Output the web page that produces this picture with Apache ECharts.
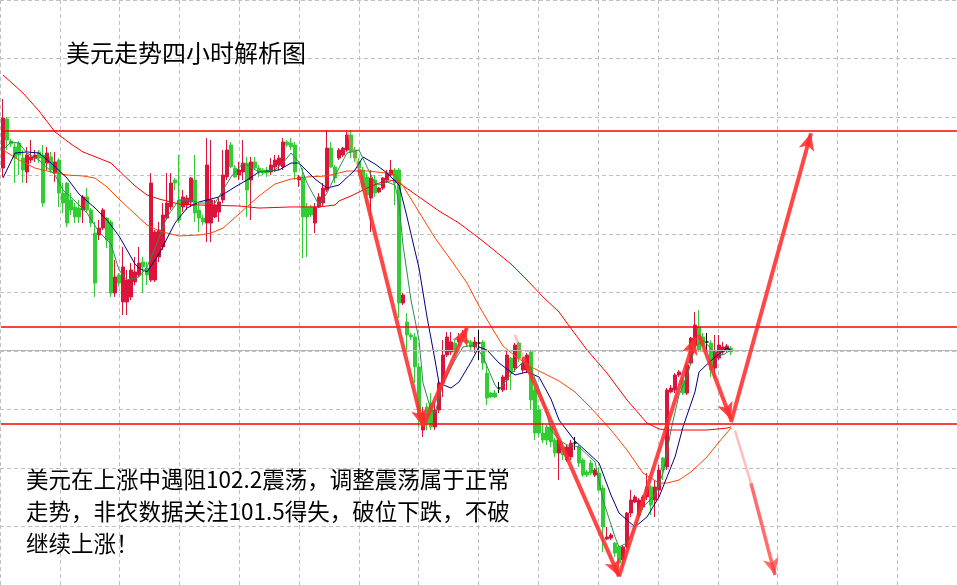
<!DOCTYPE html>
<html><head><meta charset="utf-8">
<script src="https://cdn.jsdelivr.net/npm/echarts@6/dist/echarts.min.js"></script>
<style>html,body{margin:0;padding:0;background:#fff}#c{width:957px;height:585px}</style>
</head><body><div id="c"></div>
<script>
// ---- data (USD index, 4H bars): [open, close, low, high]
const candles = [
[103.340,103.700,103.276,103.837],[103.693,103.542,103.470,103.708],[103.535,103.513,103.492,103.549],[103.492,103.412,103.232,103.520],
[103.520,103.434,103.290,103.535],[103.412,103.326,103.232,103.470],[103.312,103.434,103.232,103.492],[103.398,103.420,103.376,103.542],
[103.412,103.434,103.384,103.470],[103.456,103.412,103.376,103.470],[103.434,103.088,103.060,103.506],[103.376,103.448,103.326,103.492],
[103.420,103.326,103.304,103.456],[103.304,103.384,103.240,103.456],[103.398,103.160,103.060,103.412],[103.160,103.088,103.016,103.232],
[103.232,102.944,102.916,103.240],[103.110,103.038,103.002,103.160],[103.060,102.988,102.944,103.088],[103.052,102.988,102.944,103.110],
[103.038,103.132,102.944,103.146],[103.132,103.038,103.024,103.196],[103.038,102.944,102.916,103.052],[102.872,102.512,102.412,102.952],
[102.858,102.908,102.822,102.966],[102.908,103.038,102.894,103.052],[102.980,102.822,102.764,102.988],[102.952,102.440,102.412,102.966],
[102.440,102.556,102.412,102.678],[102.570,102.512,102.484,102.584],[102.376,102.628,102.282,102.772],[102.376,102.534,102.282,102.606],
[102.412,102.606,102.390,102.656],[102.520,102.592,102.498,102.700],[102.570,102.656,102.556,102.772],[102.664,102.628,102.440,102.700],
[102.620,102.570,102.498,102.664],[102.534,103.232,102.520,103.304],[102.534,102.880,102.520,102.894],[102.700,102.894,102.664,102.952],
[102.772,103.002,102.750,103.088],[102.980,103.088,102.966,103.304],[103.060,103.232,103.038,103.304],[103.254,103.232,103.182,103.268],
[103.110,102.966,102.944,103.434],[103.060,103.132,103.024,103.182],[103.074,103.124,103.038,103.146],[103.096,103.268,103.060,103.276],
[103.254,103.016,102.952,103.434],[103.038,102.980,102.880,103.088],[102.980,102.952,102.930,103.002],[102.944,103.362,102.808,103.556],
[102.944,103.110,102.808,103.542],[102.988,103.074,102.980,103.110],[103.024,103.096,102.952,103.132],[103.110,103.290,103.088,103.470],
[103.276,103.470,103.254,103.542],[103.506,103.348,103.340,103.528],[103.340,103.276,103.268,103.362],[103.290,103.326,103.254,103.384],
[103.312,103.376,103.254,103.542],[103.376,103.182,102.988,103.420],[103.254,103.384,102.966,103.420],[103.384,103.340,103.326,103.420],
[103.340,103.312,103.276,103.362],[103.326,103.304,103.290,103.340],[103.326,103.304,103.276,103.348],[103.312,103.362,103.290,103.412],
[103.348,103.398,103.312,103.434],[103.362,103.412,103.326,103.434],[103.348,103.528,103.326,103.556],[103.528,103.506,103.492,103.542],
[103.520,103.492,103.470,103.556],[103.506,103.312,103.254,103.528],[103.254,103.276,103.204,103.290],[103.276,102.988,102.692,103.340],
[103.060,102.988,102.700,103.088],[103.060,103.002,102.988,103.074],[102.944,103.060,102.872,103.088],[103.060,103.132,103.052,103.160],
[103.088,103.196,103.060,103.232],[103.182,103.484,103.168,103.614],[103.484,103.348,103.340,103.528],[103.348,103.268,103.232,103.362],
[103.412,103.470,103.398,103.484],[103.434,103.484,103.420,103.492],[103.470,103.578,103.456,103.614],[103.578,103.456,103.412,103.614],
[103.470,103.412,103.384,103.492],[103.384,103.340,103.304,103.412],[103.326,103.204,103.182,103.348],[103.276,103.146,103.074,103.304],
[103.124,103.268,102.880,103.326],[103.254,103.160,103.132,103.290],[103.168,103.196,103.160,103.204],[103.196,103.268,103.182,103.276],
[103.254,103.304,103.232,103.326],[103.290,103.326,103.276,103.398],[103.326,103.232,103.074,103.340],[103.326,102.368,102.260,103.340],
[102.368,102.426,102.354,102.440],[102.232,102.138,102.016,102.296],[102.138,102.124,102.102,102.152],[102.124,101.908,101.792,102.152],
[101.908,101.548,101.476,101.936],[101.454,101.576,101.404,101.620],[101.620,101.504,101.454,101.648],[101.648,101.476,101.454,101.720],
[101.476,101.598,101.454,101.648],[101.598,101.792,101.576,101.814],[101.792,101.994,101.692,102.102],[101.994,102.124,101.980,102.160],
[102.016,102.088,101.994,102.160],[102.080,102.016,101.980,102.102],[102.088,102.124,102.066,102.152],[102.116,102.152,102.088,102.174],
[102.102,102.080,102.052,102.116],[102.088,102.052,102.030,102.102],[102.052,102.088,102.008,102.124],[102.080,102.080,101.958,102.174],
[102.088,101.936,101.886,102.102],[101.864,101.684,101.634,101.936],[101.720,101.692,101.684,101.728],[101.720,101.692,101.684,101.742],
[101.756,101.756,101.720,101.800],[101.742,101.836,101.728,101.850],[101.814,101.994,101.742,102.030],[101.972,101.864,101.742,101.980],
[101.900,102.066,101.872,102.080],[102.080,101.972,101.944,102.088],[101.886,101.936,101.864,101.972],[101.886,101.994,101.864,102.008],
[102.016,101.670,101.598,102.030],[101.742,101.432,101.382,101.764],[101.598,101.432,101.404,101.634],[101.432,101.382,101.360,101.504],
[101.476,101.382,101.346,101.490],[101.476,101.368,101.332,101.490],[101.382,101.288,101.260,101.396],[101.288,101.382,101.094,101.396],
[101.332,101.274,101.238,101.360],[101.238,101.332,101.224,101.346],[101.260,101.360,101.238,101.382],[101.360,101.360,101.310,101.404],
[101.332,101.216,101.188,101.346],[101.238,101.130,101.116,101.252],[101.152,101.130,101.116,101.166],[101.216,101.144,101.130,101.238],
[101.130,101.166,101.116,101.180],[101.144,101.022,101.008,101.188],[101.036,100.756,100.576,101.058],[100.669,100.684,100.662,100.756],
[100.676,100.698,100.662,100.712],[100.640,100.568,100.540,100.648],[100.612,100.496,100.468,100.626],[100.518,100.612,100.468,100.626],
[100.612,100.856,100.604,100.864],[100.856,100.950,100.828,101.022],[100.936,100.972,100.928,100.986],[100.842,100.950,100.828,100.964],
[100.900,100.972,100.878,100.986],[100.972,101.044,100.950,101.144],[101.044,100.914,100.842,101.058],[100.950,101.044,100.828,101.094],
[101.022,101.166,100.972,101.202],[101.252,101.166,101.094,101.260],[101.188,101.742,101.166,101.756],[101.728,101.756,101.720,101.778],
[101.742,101.850,101.720,101.864],[101.850,101.872,101.836,101.886],[101.814,101.720,101.706,101.828],[101.720,101.922,101.706,101.936],
[101.936,102.116,101.922,102.124],[102.066,102.210,102.044,102.304],[102.196,102.030,102.016,102.318],[102.124,102.066,102.052,102.152],
[102.088,102.088,102.016,102.152],[102.080,101.886,101.836,102.102],[101.900,102.016,101.828,102.138],[101.972,102.066,101.958,102.138],
[102.016,102.052,101.994,102.088],[102.030,102.059,102.016,102.073],[102.044,102.016,101.994,102.059]
];
// number of bar slots on the time axis (bars + empty future space)
const slotCount = 239;
const categories = Array.from({length: slotCount}, (_, i) => 'K' + (i + 1));

// moving averages: [bar index, value]
const maFast = [[0,103.470],[2,103.528],[4,103.520],[6,103.448],[9,103.398],[13,103.290],[15,103.182],[18,103.103],[21,103.016],[24,102.880],[27,102.793],[29,102.606],[31,102.534],[34,102.556],[36,102.628],[38,102.764],[41,102.988],[44,103.110],[47,103.110],[49,103.088],[53,103.088],[57,103.276],[60,103.376],[64,103.312],[68,103.326],[70,103.376],[72,103.448],[74,103.384],[76,103.232],[79,103.074],[81,103.160],[84,103.340],[86,103.448],[89,103.470],[91,103.348],[93,103.232],[94,103.218],[96,103.240],[98,103.218],[99,103.088],[100,102.786],[102,102.390],[104,102.102],[105,101.792],[107,101.598],[108,101.576],[110,101.792],[113,101.958],[115,102.052],[118,102.066],[120,101.980],[123,101.778],[124,101.742],[127,101.857],[130,101.944],[132,101.900],[135,101.670],[137,101.454],[139,101.382],[141,101.346],[144,101.332],[148,101.224],[150,100.950],[153,100.684],[154,100.612],[156,100.640],[158,100.756],[160,100.900],[163,100.986],[165,101.144],[167,101.454],[169,101.706],[171,101.836],[173,102.052],[175,102.102],[178,102.008],[180,101.994],[182,102.030]];
const maMid = [[0,103.268],[3,103.448],[6,103.456],[9,103.448],[12,103.376],[16,103.268],[19,103.153],[23,103.052],[26,102.966],[29,102.851],[31,102.750],[33,102.649],[34,102.620],[36,102.592],[39,102.721],[43,102.944],[46,103.052],[49,103.096],[51,103.110],[54,103.132],[58,103.204],[61,103.254],[64,103.312],[69,103.326],[72,103.376],[74,103.376],[78,103.261],[81,103.196],[84,103.218],[88,103.326],[90,103.420],[93,103.369],[94,103.348],[96,103.304],[99,103.218],[101,102.988],[104,102.620],[106,102.268],[108,101.958],[109,101.792],[112,101.756],[114,101.800],[117,101.944],[119,102.052],[121,102.030],[124,101.936],[128,101.850],[131,101.872],[134,101.836],[137,101.677],[139,101.526],[143,101.375],[146,101.296],[149,101.216],[152,100.986],[154,100.856],[158,100.756],[161,100.828],[164,100.972],[168,101.260],[170,101.476],[173,101.728],[174,101.872],[178,101.980],[181,102.044],[182,102.030]];
const maSlow = [[0,103.470],[4,103.398],[8,103.340],[12,103.312],[16,103.290],[20,103.283],[23,103.268],[26,103.204],[29,103.117],[33,103.009],[36,102.930],[39,102.887],[44,102.851],[49,102.858],[52,102.872],[55,102.908],[59,103.009],[64,103.139],[68,103.225],[72,103.261],[76,103.276],[81,103.283],[86,103.319],[91,103.319],[96,103.304],[98,103.290],[100,103.211],[104,103.024],[108,102.836],[112,102.678],[116,102.512],[119,102.347],[123,102.152],[125,102.059],[128,101.987],[132,101.908],[137,101.836],[139,101.807],[143,101.728],[147,101.612],[152,101.454],[156,101.310],[160,101.144],[164,101.072],[166,101.072],[169,101.094],[172,101.152],[176,101.260],[179,101.368],[182,101.468]];
const maLong = [[0,104.010],[5,103.880],[9,103.751],[13,103.600],[17,103.513],[20,103.456],[27,103.376],[33,103.211],[36,103.146],[39,103.117],[44,103.081],[49,103.074],[59,103.067],[64,103.052],[72,103.060],[79,103.060],[83,103.074],[84,103.103],[87,103.139],[91,103.196],[94,103.232],[98,103.254],[104,103.132],[109,103.031],[114,102.944],[119,102.836],[123,102.743],[127,102.649],[131,102.534],[135,102.412],[139,102.304],[141,102.224],[146,102.030],[151,101.864],[156,101.670],[161,101.504],[164,101.461],[166,101.454],[171,101.454],[176,101.454],[181,101.468],[182,101.476]];

// price levels
const levelTop = 103.61, levelResist = 102.2, levelSupport = 101.5, lastPrice = 102.03;
const priceMin = 100.338, priceMax = 104.55;

// annotation arrows: [[bar, price], [bar, price]]
const arrowMain = [
  [[89,103.33],[105,101.48]],
  [[105,101.48],[116,102.19]],
  [[130,101.98],[154,100.40]],
  [[154,100.40],[173,102.12]],
  [[174,102.14],[182,101.53]],
  [[182,101.51],[202,103.59]]
];
const arrowTails = [
  [[86,103.61],[89,103.33]],
  [[128,102.14],[130,101.98]],
  [[183,101.45],[187,101.07]]
];
const arrowFaded = [[[187,101.07],[193,100.41]]];

const titleText = '美元走势四小时解析图';
const noteLines = ['美元在上涨中遇阻102.2震荡，调整震荡属于正常', '走势，非农数据关注101.5得失，破位下跌，不破', '继续上涨！'];

// ---- chart
const chart = echarts.init(document.getElementById('c'));
const hLine = (v, color, w) => ({yAxis: v, lineStyle: {color: color, width: w, type: 'solid'}});
const arrowItem = (seg, color, w, head) => [
  {coord: seg[0], symbol: 'none', lineStyle: {color: color, width: w, type: 'solid'}},
  {coord: seg[1], symbol: head ? 'arrow' : 'none', symbolSize: [12, 17], itemStyle: {color: color}}
];
const arrowData = []
  .concat(arrowTails.map(s => arrowItem(s, 'rgba(255,110,110,0.45)', 2.5, false)))
  .concat(arrowMain.map(s => arrowItem(s, 'rgba(255,45,45,0.88)', 4, true)))
  .concat(arrowFaded.map(s => arrowItem(s, 'rgba(255,60,60,0.75)', 3.5, true)));

const hidden = {axisLine: {show: false}, axisTick: {show: false}, axisLabel: {show: false}};
const maSeries = (name, data, color, z) => ({
  name: name, type: 'line', data: data, xAxisIndex: 0, yAxisIndex: 0,
  showSymbol: false, symbol: 'none', smooth: false, z: z,
  lineStyle: {color: color, width: 1}, silent: true
});

chart.setOption({
  animation: false,
  backgroundColor: '#ffffff',
  title: [
    {text: titleText, left: 66, top: 41, padding: 0,
     textStyle: {fontSize: 24, fontWeight: 'normal', color: '#000', fontFamily: 'Noto Sans CJK SC', lineHeight: 24}},
    {text: noteLines.join('\n'), left: 26, top: 463, padding: 0,
     textStyle: {fontSize: 22.5, fontWeight: 'normal', color: '#000', fontFamily: 'Noto Sans CJK SC', lineHeight: 32}}
  ],
  grid: [
    {left: 1, right: 0, top: 0, bottom: 0},
    {left: -46, top: -24, width: 1024, height: 650}
  ],
  xAxis: [
    {type: 'category', gridIndex: 0, data: categories, boundaryGap: true, show: false},
    Object.assign({type: 'value', gridIndex: 1, min: 0, max: 16, interval: 1,
      splitLine: {show: true, lineStyle: {color: '#c0c0c0', width: 1, type: [4, 3]}}}, hidden)
  ],
  yAxis: [
    {type: 'value', gridIndex: 0, min: priceMin, max: priceMax, show: false, splitLine: {show: false}},
    Object.assign({type: 'value', gridIndex: 1, min: 0, max: 10, interval: 1,
      splitLine: {show: true, lineStyle: {color: '#c0c0c0', width: 1, type: [4, 3]}}}, hidden)
  ],
  series: [
    {
      name: 'USD', type: 'candlestick', data: candles, xAxisIndex: 0, yAxisIndex: 0,
      barWidth: 3, silent: true,
      itemStyle: {color: '#DC143C', color0: '#32CD32', borderColor: '#DC143C', borderColor0: '#32CD32',
                  borderColorDoji: '#000000', borderWidth: 1},
      markLine: {
        silent: true, symbol: ['none', 'none'], label: {show: false}, animation: false,
        data: [
          hLine(lastPrice, '#b8b8b8', 1),
          hLine(levelTop, '#ff0000', 1.5),
          hLine(levelResist, '#ff0000', 1.5),
          hLine(levelSupport, '#ff0000', 1.5)
        ]
      }
    },
    maSeries('MA long', maLong, '#ff0000', 3),
    maSeries('MA slow', maSlow, '#ff4500', 3),
    maSeries('MA mid', maMid, '#000080', 3),
    Object.assign(maSeries('MA fast', maFast, '#2e8b57', 4), {
      markLine: {silent: true, label: {show: false}, animation: false, data: arrowData}
    })
  ]
});
</script></body></html>
